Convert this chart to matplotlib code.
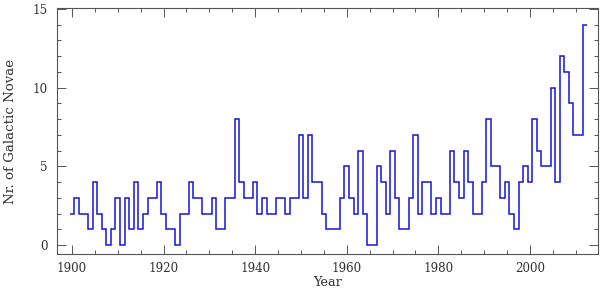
import numpy as np
import matplotlib
matplotlib.use("Agg")
import matplotlib.pyplot as plt
from matplotlib.ticker import MultipleLocator

# Anos e número de novas galácticas por ano
anos = np.arange(1900, 2013)
novas = [2, 3, 2, 2, 1, 4, 2, 1, 0, 1,      # 1900-1909
         3, 0, 3, 1, 4, 1, 2, 3, 3, 4,      # 1910-1919
         2, 1, 1, 0, 2, 2, 4, 3, 3, 2,      # 1920-1929
         2, 3, 1, 1, 3, 3, 8, 4, 3, 3,      # 1930-1939
         4, 2, 3, 2, 2, 3, 3, 2, 3, 3,      # 1940-1949
         7, 3, 7, 4, 4, 2, 1, 1, 1, 3,      # 1950-1959
         5, 3, 2, 6, 2, 0, 0, 5, 4, 2,      # 1960-1969
         6, 3, 1, 1, 3, 7, 2, 4, 4, 2,      # 1970-1979
         3, 2, 2, 6, 4, 3, 6, 4, 2, 2,      # 1980-1989
         4, 8, 5, 5, 3, 4, 2, 1, 4, 5,      # 1990-1999
         4, 8, 6, 5, 5, 10, 4, 12, 11, 9,   # 2000-2009
         7, 7, 14]                          # 2010-2012

rotulo_x = "Year"
rotulo_y = "Nr. of Galactic Novae"

plt.rcParams['font.family'] = ['DejaVu Serif']

fig = plt.figure(figsize=(6.0, 2.9), dpi=100)
ax = fig.add_axes([0.0955, 0.124, 0.9015, 0.848])

# histograma centrado em cada ano
bordas = np.append(anos - 0.5, anos[-1] + 0.5)
ax.stairs(novas, bordas, baseline=None, color="#1414dc", linewidth=1.1)

ax.set_xlim(1896.8, 2014.9)
ax.set_ylim(-0.56, 15.05)

ax.xaxis.set_major_locator(MultipleLocator(20))
ax.xaxis.set_minor_locator(MultipleLocator(5))
ax.yaxis.set_major_locator(MultipleLocator(5))
ax.yaxis.set_minor_locator(MultipleLocator(1))

ax.tick_params(which='both', direction='in', top=True, right=True,
               color='#555555', width=0.7)
ax.tick_params(which='major', length=6.5, labelsize=8.6, labelcolor='#333333')
ax.tick_params(which='minor', length=3.2)
ax.tick_params(axis='x', which='major', pad=5.5)
ax.tick_params(axis='y', which='major', pad=7)

for s in ax.spines.values():
    s.set_color('#555555')
    s.set_linewidth(0.8)

ax.set_xlabel(rotulo_x, fontsize=9.4, color='#333333', labelpad=1)
ax.set_ylabel(rotulo_y, fontsize=9.6, color='#333333', labelpad=11)

fig.savefig("out.png", dpi=100)
